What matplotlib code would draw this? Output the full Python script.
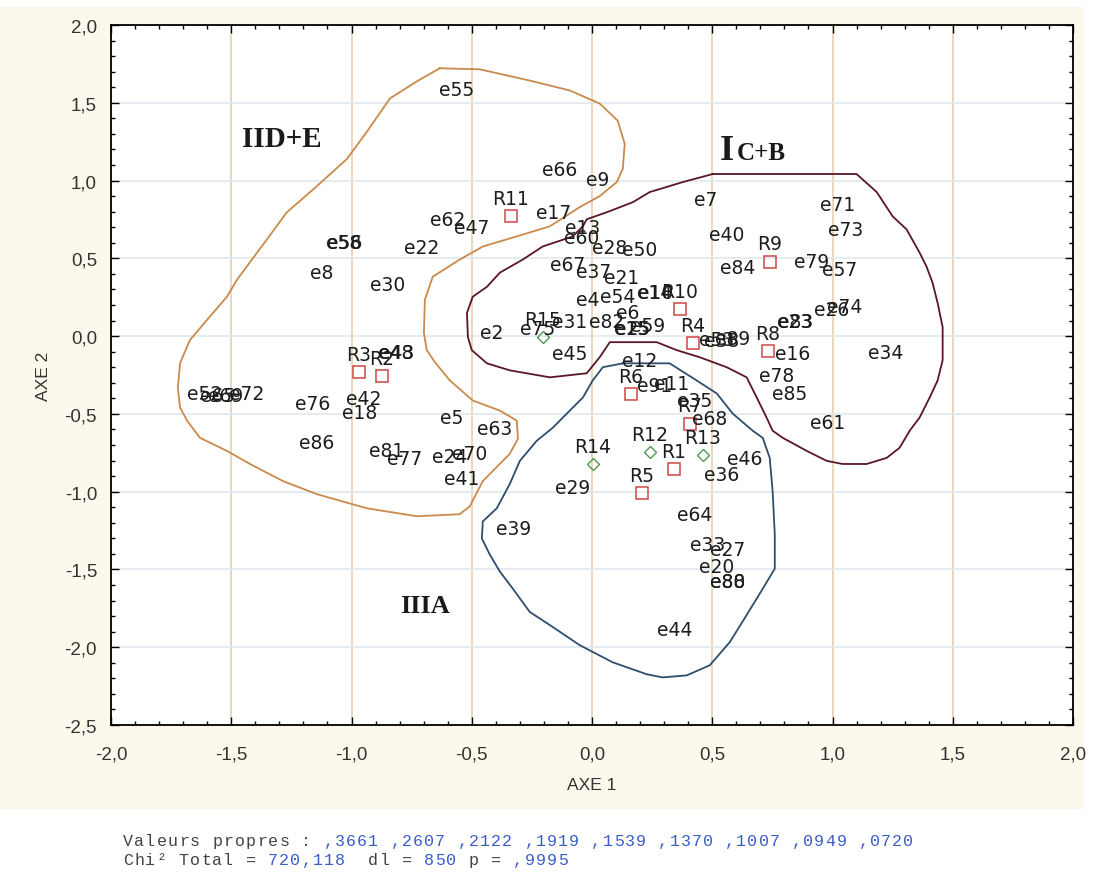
import matplotlib
matplotlib.use("Agg")
import matplotlib.pyplot as plt
from matplotlib.ticker import MultipleLocator, FuncFormatter
from matplotlib.patches import Rectangle

# --- row points (labels only, no visible marker) ---
e_labels = ["e55", "e66", "e9", "e17", "e62", "e47", "e58", "e56", "e22", "e8", "e30",
            "e13", "e60", "e28", "e50", "e67", "e37", "e21", "e4", "e54", "e14", "e10",
            "e6", "e75", "e31", "e82", "e15", "e25", "e59", "e2", "e45", "e53", "e38",
            "e89", "e12", "e91", "e11", "e35", "e68", "e46", "e36", "e29", "e64", "e39",
            "e33", "e27", "e20", "e80", "e88", "e44", "e7", "e71", "e73", "e40", "e84",
            "e79", "e57", "e26", "e74", "e23", "e83", "e16", "e34", "e78", "e85", "e61",
            "e48", "e43", "e52", "e65", "e69", "e72", "e76", "e42", "e18", "e5", "e63",
            "e86", "e81", "e77", "e24", "e70", "e41"]
e_x = [-0.562, -0.134, 0.024, -0.159, -0.599, -0.500, -1.032, -1.030, -0.707, -1.123, -0.849,
       -0.038, -0.042, 0.074, 0.199, -0.101, 0.007, 0.124, -0.017, 0.107, 0.261, 0.263,
       0.149, -0.225, -0.092, 0.062, 0.165, 0.167, 0.232, -0.416, -0.092, 0.519, 0.539,
       0.585, 0.199, 0.261, 0.332, 0.427, 0.490, 0.635, 0.539, -0.080, 0.427, -0.325,
       0.481, 0.564, 0.519, 0.564, 0.566, 0.344, 0.473, 1.022, 1.055, 0.560, 0.606,
       0.914, 1.030, 0.997, 1.051, 0.843, 0.845, 0.835, 1.221, 0.768, 0.822, 0.980,
       -0.815, -0.813, -1.609, -1.555, -1.522, -1.435, -1.160, -0.948, -0.965, -0.583, -0.404,
       -1.144, -0.853, -0.778, -0.591, -0.508, -0.541]
e_y = [1.586, 1.074, 1.010, 0.796, 0.751, 0.699, 0.602, 0.602, 0.570, 0.408, 0.330,
       0.699, 0.634, 0.570, 0.557, 0.460, 0.414, 0.375, 0.233, 0.252, 0.278, 0.278,
       0.149, 0.052, 0.091, 0.091, 0.052, 0.052, 0.065, 0.026, -0.110, -0.019, -0.026,
       -0.013, -0.155, -0.317, -0.304, -0.414, -0.531, -0.790, -0.887, -0.971, -1.146, -1.236,
       -1.340, -1.372, -1.482, -1.579, -1.579, -1.883, 0.880, 0.848, 0.686, 0.654, 0.440,
       0.479, 0.427, 0.168, 0.188, 0.091, 0.091, -0.110, -0.104, -0.252, -0.369, -0.557,
       -0.104, -0.104, -0.369, -0.382, -0.382, -0.369, -0.434, -0.401, -0.492, -0.524, -0.595,
       -0.686, -0.738, -0.790, -0.777, -0.757, -0.913]

# --- column points (red squares) ---
r_labels = ["R11", "R10", "R4", "R9", "R8", "R3", "R2", "R6", "R7", "R1", "R5"]
r_x = [-0.337, 0.365, 0.419, 0.739, 0.731, -0.969, -0.874, 0.161, 0.406, 0.340, 0.207]
r_y = [0.770, 0.175, -0.045, 0.479, -0.097, -0.233, -0.259, -0.375, -0.563, -0.854, -1.010]

# --- supplementary column points (green diamonds) ---
g_labels = ["R15", "R12", "R13", "R14"]
g_x = [-0.205, 0.240, 0.460, 0.003]
g_y = [-0.006, -0.744, -0.764, -0.822]

# --- hand drawn group contours ---
de_x = [-0.633, -0.466, -0.246, -0.092, 0.032, 0.107, 0.136, 0.128, 0.103, 0.032, -0.051,
        -0.175, -0.313, -0.454, -0.550, -0.662, -0.695, -0.699, -0.687, -0.653, -0.591, -0.496,
        -0.383, -0.313, -0.308, -0.342, -0.404, -0.454, -0.508, -0.550, -0.728, -0.936, -1.144,
        -1.285, -1.422, -1.518, -1.630, -1.684, -1.713, -1.722, -1.713, -1.672, -1.601, -1.518,
        -1.476, -1.352, -1.269, -1.144, -1.019, -0.936, -0.840, -0.728, -0.633]
de_y = [1.722, 1.715, 1.638, 1.579, 1.495, 1.385, 1.236, 1.075, 0.990, 0.900, 0.829,
        0.706, 0.641, 0.576, 0.492, 0.382, 0.233, 0.020, -0.090, -0.168, -0.285, -0.414,
        -0.479, -0.543, -0.660, -0.757, -0.854, -0.932, -1.094, -1.145, -1.158, -1.107, -1.016,
        -0.932, -0.822, -0.738, -0.654, -0.543, -0.459, -0.330, -0.175, -0.026, 0.104, 0.253,
        0.363, 0.621, 0.796, 0.964, 1.139, 1.314, 1.528, 1.638, 1.722]

cb_x = [0.502, 1.100, 1.184, 1.250, 1.308, 1.362, 1.391, 1.416, 1.437, 1.458, 1.458, 1.437,
        1.404, 1.362, 1.321, 1.279, 1.225, 1.142, 1.042, 0.976, 0.893, 0.793, 0.751, 0.726,
        0.685, 0.643, 0.560, 0.448, 0.352, 0.269, 0.074, 0.032, -0.022, -0.175, -0.342,
        -0.437, -0.500, -0.516, -0.520, -0.496, -0.437, -0.383, -0.288, -0.205, -0.080,
        -0.038, -0.022, 0.061, 0.170, 0.240, 0.377, 0.502]
cb_y = [1.042, 1.042, 0.926, 0.770, 0.686, 0.537, 0.447, 0.343, 0.214, 0.058, -0.155, -0.285,
        -0.395, -0.524, -0.608, -0.718, -0.783, -0.822, -0.822, -0.802, -0.738, -0.654, -0.608,
        -0.524, -0.395, -0.265, -0.200, -0.136, -0.090, -0.039, -0.039, -0.136, -0.239, -0.265,
        -0.220, -0.175, -0.090, -0.006, 0.149, 0.253, 0.317, 0.408, 0.492, 0.576, 0.641,
        0.706, 0.751, 0.796, 0.861, 0.926, 0.990, 1.042]

a_x = [0.128, 0.323, 0.435, 0.519, 0.585, 0.668, 0.710, 0.739, 0.751, 0.760, 0.760, 0.710,
       0.643, 0.573, 0.490, 0.394, 0.294, 0.228, 0.086, -0.051, -0.163, -0.259, -0.329,
       -0.383, -0.425, -0.458, -0.454, -0.396, -0.342, -0.300, -0.230, -0.163, -0.105,
       -0.038, 0.003, 0.045, 0.128]
a_y = [-0.175, -0.175, -0.285, -0.369, -0.498, -0.608, -0.654, -0.783, -0.997, -1.275, -1.495,
       -1.624, -1.793, -1.967, -2.116, -2.181, -2.194, -2.174, -2.097, -1.987, -1.870, -1.773,
       -1.624, -1.514, -1.404, -1.301, -1.191, -1.107, -0.951, -0.802, -0.673, -0.589, -0.498,
       -0.395, -0.285, -0.200, -0.175]

eigen_values = [",3661", ",2607", ",2122", ",1919", ",1539", ",1370", ",1007", ",0949", ",0720"]
chi_total = "720,118"
dl = "850"
p_value = ",9995"

W, H = 1095, 878
fig = plt.figure(figsize=(W / 100, H / 100), dpi=100, facecolor="white")
bg = Rectangle((0, 1 - 810 / H), 1083 / W, (810 - 8) / H, transform=fig.transFigure,
               facecolor="#fcf9ec", edgecolor="none", zorder=-10)
fig.add_artist(bg)

ax = fig.add_axes([111 / W, (H - 726) / H, (1073 - 111) / W, (726 - 26) / H])
ax.set_zorder(1)
ax.set_facecolor("white")
ax.set_xlim(-2.0, 2.0)
ax.set_ylim(-2.5, 2.0)
ax.set_axisbelow(True)

ax.xaxis.set_major_locator(MultipleLocator(0.5))
ax.yaxis.set_major_locator(MultipleLocator(0.5))
ax.xaxis.set_minor_locator(MultipleLocator(0.1))
ax.yaxis.set_minor_locator(MultipleLocator(0.1))


def comma_fmt(v, _):
    if abs(v) < 1e-9:
        v = 0.0
    return f"{v:.1f}".replace(".", ",")


ax.xaxis.set_major_formatter(FuncFormatter(comma_fmt))
ax.yaxis.set_major_formatter(FuncFormatter(comma_fmt))
ax.tick_params(which="both", direction="in", top=True, right=True, color="black")
ax.tick_params(which="major", length=6, width=1)
ax.tick_params(which="minor", length=3, width=1)
ax.tick_params(axis="x", which="major", pad=15, labelsize=13.5, labelcolor="#333333")
ax.tick_params(axis="y", which="major", pad=10, labelsize=13.5, labelcolor="#333333")
for lab in ax.get_xticklabels() + ax.get_yticklabels():
    lab.set_fontfamily("Liberation Sans")
for sp in ax.spines.values():
    sp.set_linewidth(1.3)

ax.xaxis.grid(True, color="#e4cba8", linewidth=1.1)
ax.yaxis.grid(True, color="#dde6ee", linewidth=1.1)

ax.set_xlabel("AXE 1", fontsize=12.5, family="Liberation Sans", color="#333333", labelpad=10)
ax.set_ylabel("AXE 2", fontsize=12.5, family="Liberation Sans", color="#333333", labelpad=10)

# contours
ax.plot(de_x, de_y, color="#c98a4b", linewidth=1.3, zorder=2)
ax.plot(cb_x, cb_y, color="#5a1629", linewidth=1.3, zorder=2)
ax.plot(a_x, a_y, color="#2f4d6c", linewidth=1.3, zorder=2)

# labels of row points
for lab, x, y in zip(e_labels, e_x, e_y):
    ax.text(x, y, lab, ha="center", va="center", fontsize=13.5, color="#1c1c1c",
            family="DejaVu Sans", zorder=4)

# column points
ax.plot(r_x, r_y, linestyle="none", marker="s", markersize=8, markerfacecolor="none",
        markeredgecolor="#d04646", markeredgewidth=1.1, zorder=3)
for lab, x, y in zip(r_labels, r_x, r_y):
    ax.annotate(lab, (x, y), xytext=(0, 6), textcoords="offset points", ha="center",
                va="bottom", fontsize=13.5, color="#1c1c1c", family="DejaVu Sans", zorder=4)

ax.plot(g_x, g_y, linestyle="none", marker="D", markersize=6, markerfacecolor="none",
        markeredgecolor="#4f9a4f", markeredgewidth=1.0, zorder=3)
for lab, x, y in zip(g_labels, g_x, g_y):
    ax.annotate(lab, (x, y), xytext=(0, 6), textcoords="offset points", ha="center",
                va="bottom", fontsize=13.5, color="#1c1c1c", family="DejaVu Sans", zorder=4)

# group names
serif = ["Liberation Serif", "DejaVu Serif"]
ax.text(-1.456, 1.223, "IID+E", fontsize=21, fontweight="bold", family=serif,
        ha="left", va="baseline", color="#1a1a1a")
ax.text(0.531, 1.139, "I", fontsize=26, fontweight="bold", family=serif,
        ha="left", va="baseline", color="#1a1a1a")
ax.text(0.602, 1.139, "C+B", fontsize=18, fontweight="bold", family=serif,
        ha="left", va="baseline", color="#1a1a1a")
ax.text(-0.799, -1.773, "IIIA", fontsize=19, fontweight="bold", family=serif,
        ha="left", va="baseline", color="#1a1a1a")

# footer text, one character per fixed column
dark = "#444444"
blue = "#3a5cc8"
line1 = [("Valeurs propres : ", dark), (" ".join(eigen_values), blue)]
line2 = [("Chi\u00b2 Total = ", dark), (chi_total, blue), ("  dl = ", dark), (dl, blue),
         (" p = ", dark), (p_value, blue)]


def write_line(parts, y_px):
    col = 0
    for txt, colr in parts:
        for ch in txt:
            if ch != " ":
                fig.text((123 + col * 11.15) / W, 1 - y_px / H, ch, ha="left", va="center",
                         fontsize=12, family="Liberation Mono", color=colr)
            col += 1


write_line(line1, 842)
write_line(line2, 861)

fig.savefig("out.png", dpi=100, facecolor=fig.get_facecolor())
